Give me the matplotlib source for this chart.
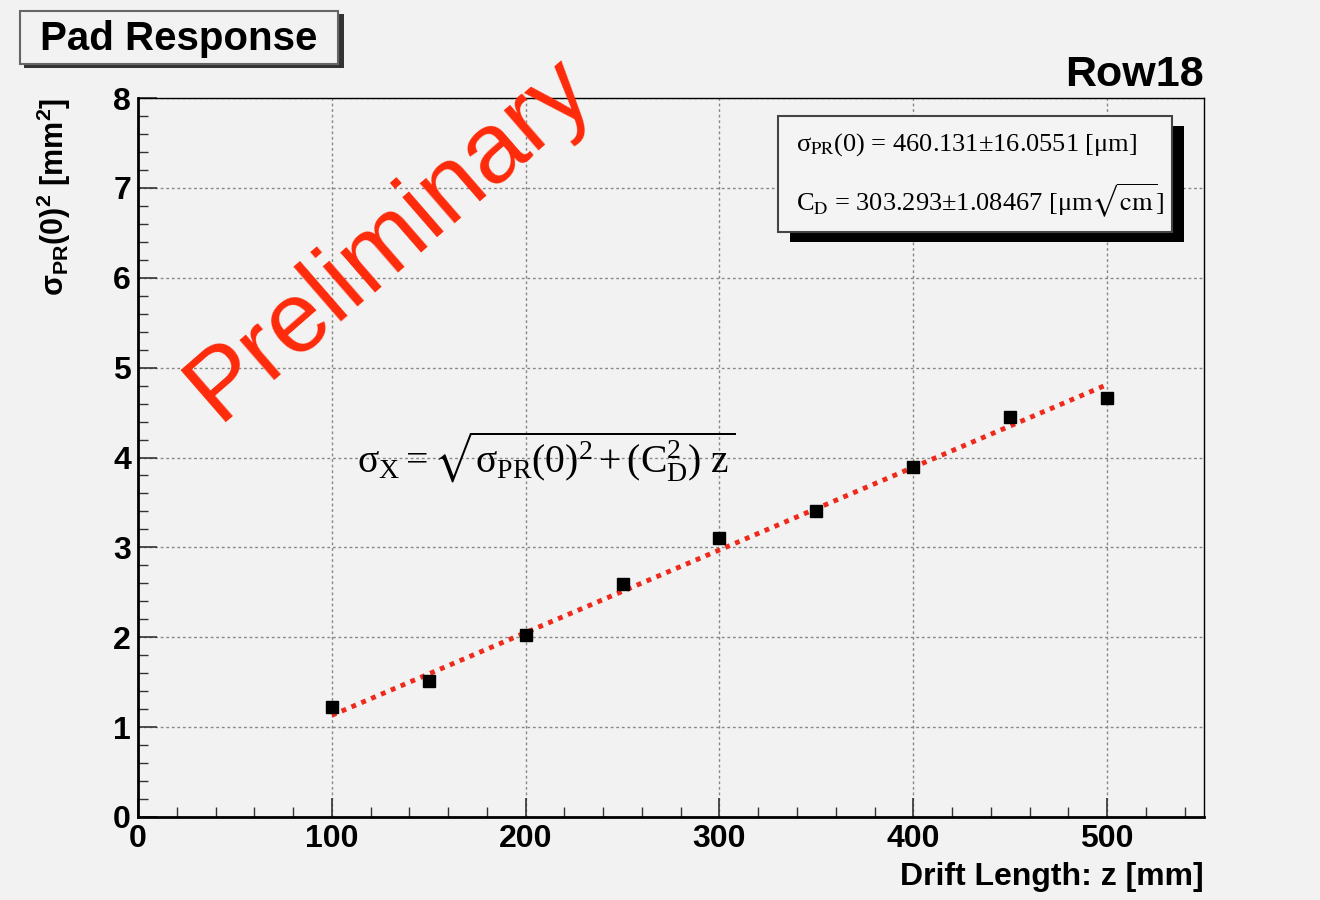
import matplotlib
matplotlib.use("Agg")
import matplotlib.pyplot as plt
from matplotlib.patches import Rectangle
from matplotlib.ticker import MultipleLocator
import numpy as np

# ---- data ----
drift_z = [100, 150, 200, 250, 300, 350, 400, 450, 500]
sigma_pr_sq = [1.22, 1.51, 2.02, 2.59, 3.10, 3.40, 3.89, 4.45, 4.66]
fit_sigma0_um = 460.131
fit_cd_um = 303.293
fit_z_range = [100, 500]
title_text = "Pad Response"
row_text = "Row18"
stat_lines = [r"$\sigma_{\rm PR}$(0) = 460.131$\pm$16.0551 [$\mu$m]",
              r"C$_{\rm D}$ = 303.293$\pm$1.08467 [$\mu$m$\sqrt{\rm cm}$]"]

BG = "#f2f2f2"
plt.rcParams['font.family'] = ['Liberation Sans', 'DejaVu Sans']
plt.rcParams['mathtext.default'] = 'regular'

fig = plt.figure(figsize=(13.2, 9), dpi=100, facecolor=BG)
ax = fig.add_axes([138/1320, 1-817/900, (1204-138)/1320, (817-98)/900])
ax.set_facecolor(BG)
ax.set_xlim(0, 550)
ax.set_ylim(0, 8)

ax.xaxis.set_major_locator(MultipleLocator(100))
ax.xaxis.set_minor_locator(MultipleLocator(20))
ax.yaxis.set_major_locator(MultipleLocator(1))
ax.yaxis.set_minor_locator(MultipleLocator(0.2))
ax.tick_params(which='both', direction='in', top=False, right=False, color='#333333')
ax.tick_params(which='major', length=14, width=1.2, labelsize=23, pad=5)
ax.tick_params(which='minor', length=7, width=1.0)
for lab in ax.get_xticklabels() + ax.get_yticklabels():
    lab.set_fontweight('bold')
ax.grid(True, which='major', linestyle=(0, (2, 2)), color='#888888', linewidth=1.0)
for s in ax.spines.values():
    s.set_linewidth(1.0)
ax.spines['left'].set_linewidth(2.0)
ax.spines['bottom'].set_linewidth(2.0)

# fit line
zf = np.array(fit_z_range, dtype=float)
cd2 = (fit_cd_um * 1e-3) ** 2 / 10.0  # mm^2 per mm
yf = (fit_sigma0_um * 1e-3) ** 2 + cd2 * zf
ax.plot(zf, yf, color='#ee2a1c', linestyle=(0, (1, 1.2)), linewidth=3.5, zorder=3)

# points
ax.plot(drift_z, sigma_pr_sq, linestyle='none', marker='s', color='black',
        markersize=9, zorder=4)

# labels
ax.set_xlabel("Drift Length: z [mm]", fontsize=23, fontweight='bold', loc='right', labelpad=6)
ax.set_ylabel(r"$\sigma_{PR}$(0)$^2$ [mm$^2$]", fontsize=22, fontweight='bold', loc='top',
              labelpad=29)

# title box with shadow
fig.patches.append(Rectangle((24/1320, 1-68/900), 320/1320, 54/900, transform=fig.transFigure,
                             facecolor='#333333', edgecolor='none', zorder=1))
fig.patches.append(Rectangle((20/1320, 1-64/900), 318/1320, 53/900, transform=fig.transFigure,
                             facecolor=BG, edgecolor='#666666', linewidth=1.5, zorder=2))
fig.text(179/1320, 1-39/900, title_text, fontsize=29, fontweight='bold', va='center', ha='center',
         zorder=3)

# Row18
fig.text(1204/1320, 1-75/900, row_text, fontsize=31, fontweight='bold', ha='right', va='center')

# stats box with shadow
fig.patches.append(Rectangle((790/1320, 1-242/900), 394/1320, 116/900, transform=fig.transFigure,
                             facecolor='black', edgecolor='none', zorder=5))
fig.patches.append(Rectangle((778/1320, 1-232/900), 394/1320, 116/900, transform=fig.transFigure,
                             facecolor='#f4f4f4', edgecolor='#444444', linewidth=1.5, zorder=6))
fig.text(796/1320, 1-145/900, stat_lines[0], fontsize=19, family='Liberation Serif',
         math_fontfamily='stix', va='center', zorder=7)
fig.text(796/1320, 1-201/900, stat_lines[1], fontsize=19, family='Liberation Serif',
         math_fontfamily='stix', va='center', zorder=7)

# formula
ax.text(113, 4.0, r"$\sigma_{X} = \sqrt{\sigma_{PR}(0)^2 + (C_{D}^2)\ z}$",
        fontsize=28.5, family='Liberation Serif', math_fontfamily='stix',
        va='center', ha='left', zorder=5)

# Preliminary
fig.text(390/1320, 1-238/900, "Preliminary", fontsize=72, color='#ff2a0a',
         rotation=41, ha='center', va='center', rotation_mode='anchor', zorder=10)

fig.savefig("out.png", dpi=100, facecolor=BG)
